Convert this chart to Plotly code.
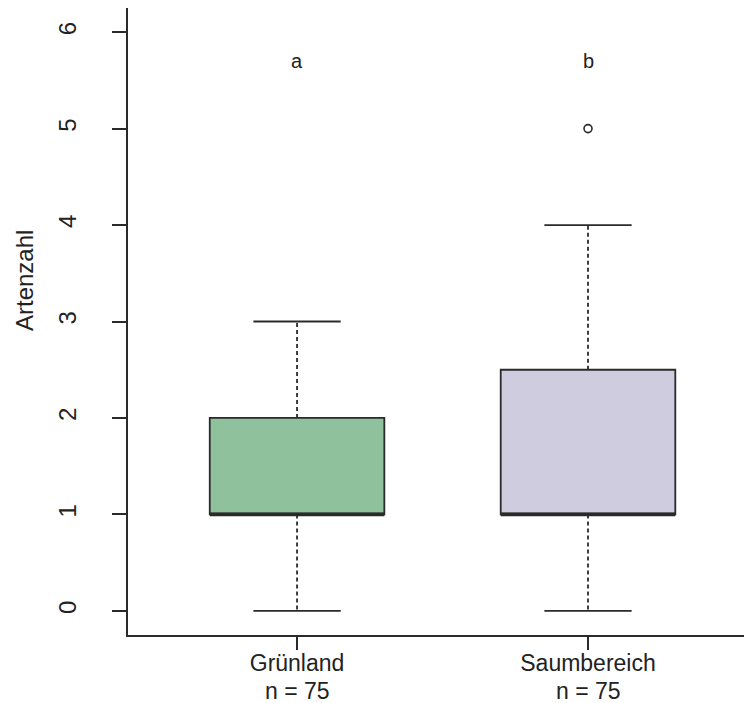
import plotly.graph_objects as go

# ---- data ----
categories = ["Grünland", "Saumbereich"]
n_labels = ["n = 75", "n = 75"]
positions = [1, 2]
q1 = [1, 1]
median = [1, 1]
q3 = [2, 2.5]
lower_whisker = [0, 0]
upper_whisker = [3, 4]
outliers = [[], [5]]
letters = ["a", "b"]
letter_y = 5.7
y_ticks = [0, 1, 2, 3, 4, 5, 6]
fill_colors = ["#8fc29c", "#d0cce0"]

FONT = "Liberation Sans, Arial, sans-serif"
TXT = "#222222"
LINE = "#2a2a2a"
BOXW = 0.6
CAPW = 0.3

# page body has an 8px margin -> figure is drawn from (8, 8)
W, H = 744, 695
ML, MT, MB = 120, 0, 68
PW, PH = W - ML, H - MT - MB

fig = go.Figure()

for i, cat in enumerate(categories):
    x = positions[i]
    fig.add_trace(go.Box(
        x=[x], q1=[q1[i]], median=[median[i]], q3=[q3[i]],
        lowerfence=[q1[i]], upperfence=[q3[i]],
        width=BOXW, fillcolor=fill_colors[i],
        line=dict(color=LINE, width=1.8),
        boxpoints=False, hoverinfo="skip", showlegend=False,
    ))
    fig.add_trace(go.Scatter(
        x=[x - BOXW / 2, x + BOXW / 2], y=[median[i], median[i]],
        mode="lines", line=dict(color=LINE, width=3.5),
        hoverinfo="skip", showlegend=False,
    ))
    fig.add_trace(go.Scatter(
        x=[x, x, None, x, x],
        y=[q3[i], upper_whisker[i], None, q1[i], lower_whisker[i]],
        mode="lines", line=dict(color=LINE, width=1.8, dash="4px,3px"),
        hoverinfo="skip", showlegend=False,
    ))
    fig.add_trace(go.Scatter(
        x=[x - CAPW / 2, x + CAPW / 2, None, x - CAPW / 2, x + CAPW / 2],
        y=[upper_whisker[i], upper_whisker[i], None, lower_whisker[i], lower_whisker[i]],
        mode="lines", line=dict(color=LINE, width=1.8),
        hoverinfo="skip", showlegend=False,
    ))
    if outliers[i]:
        fig.add_trace(go.Scatter(
            x=[x] * len(outliers[i]), y=outliers[i], mode="markers",
            marker=dict(symbol="circle-open", size=8, color=LINE,
                        line=dict(width=1.6, color=LINE)),
            hoverinfo="skip", showlegend=False,
        ))
    fig.add_annotation(x=x, y=letter_y, xref="x", yref="y", text=letters[i],
                       showarrow=False, font=dict(family=FONT, size=20, color=TXT))
    fig.add_annotation(x=x, xref="x", yref="paper", y=(PH - (683 - MT)) / PH,
                       text=n_labels[i], showarrow=False, yanchor="middle",
                       font=dict(family=FONT, size=23, color=TXT))

fig.add_annotation(xref="paper", yref="paper",
                   x=(16 - ML) / PW, y=(PH - (273 - MT)) / PH,
                   text="Artenzahl", textangle=-90, showarrow=False,
                   xanchor="center", yanchor="middle",
                   font=dict(family=FONT, size=24, color=TXT))

fig.update_xaxes(
    range=[0.419, 2.5636],
    tickvals=positions,
    ticktext=categories,
    ticks="outside", ticklen=13, tickwidth=1.5, tickcolor=LINE,
    showline=True, linecolor=LINE, linewidth=1.5, mirror=True,
    showgrid=False, zeroline=False,
    ticklabelstandoff=-6,
    tickfont=dict(family=FONT, size=23, color=TXT),
)
fig.update_yaxes(
    range=[-0.25, 6.25],
    tickvals=y_ticks,
    ticks="outside", ticklen=14, tickwidth=1.5, tickcolor=LINE,
    showline=True, linecolor=LINE, linewidth=1.5,
    showgrid=False, zeroline=False, tickangle=-90,
    ticklabelstandoff=27,
    tickfont=dict(family=FONT, size=24, color=TXT),
)
fig.update_layout(
    width=W, height=H,
    margin=dict(l=ML, r=0, t=MT, b=MB, autoexpand=False),
    plot_bgcolor="white", paper_bgcolor="white",
    showlegend=False,
)

fig.write_html("out.html")
